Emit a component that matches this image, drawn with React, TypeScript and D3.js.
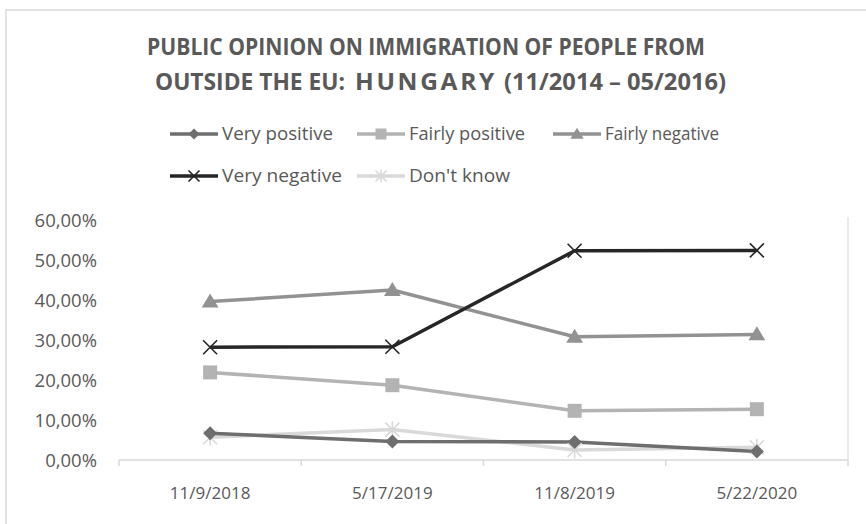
import { useEffect, useRef } from 'react';
import * as d3 from 'd3';

const dates = ['11/9/2018', '5/17/2019', '11/8/2019', '5/22/2020'];
const veryPositive = [6.7, 4.6, 4.5, 2.1];
const fairlyPositive = [21.9, 18.7, 12.3, 12.7];
const fairlyNegative = [39.6, 42.5, 30.8, 31.4];
const veryNegative = [28.2, 28.3, 52.3, 52.4];
const dontKnow = [5.7, 7.6, 2.5, 3.2];
const yTicks = [0, 10, 20, 30, 40, 50, 60];

type Marker = 'diamond' | 'square' | 'triangle' | 'x' | 'star';
type Series = { name: string; values: number[]; color: string; marker: Marker };

const series: Series[] = [
  { name: 'Very positive', values: veryPositive, color: '#6e6e6e', marker: 'diamond' },
  { name: 'Fairly positive', values: fairlyPositive, color: '#b3b3b3', marker: 'square' },
  { name: 'Fairly negative', values: fairlyNegative, color: '#929292', marker: 'triangle' },
  { name: 'Very negative', values: veryNegative, color: '#262626', marker: 'x' },
  { name: "Don't know", values: dontKnow, color: '#d9d9d9', marker: 'star' },
];

const FONT = "'Open Sans', sans-serif";
const TEXT = '#595959';

function drawMarker(g: d3.Selection<SVGGElement, unknown, null, undefined>, m: Marker, color: string, s: number) {
  if (m === 'diamond') {
    g.append('path').attr('d', `M0,${-s}L${s},0L0,${s}L${-s},0Z`).attr('fill', color);
  } else if (m === 'square') {
    g.append('rect').attr('x', -s).attr('y', -s).attr('width', 2 * s).attr('height', 2 * s).attr('fill', color);
  } else if (m === 'triangle') {
    g.append('path').attr('d', `M0,${-s * 1.15}L${s * 1.2},${s * 0.85}L${-s * 1.2},${s * 0.85}Z`).attr('fill', color);
  } else if (m === 'x') {
    g.append('path').attr('d', `M${-s},${-s}L${s},${s}M${-s},${s}L${s},${-s}`)
      .attr('stroke', color).attr('stroke-width', 1.6).attr('fill', 'none');
  } else {
    g.append('path')
      .attr('d', `M${-s},${-s}L${s},${s}M${-s},${s}L${s},${-s}M0,${-s * 1.2}L0,${s * 1.2}`)
      .attr('stroke', color).attr('stroke-width', 1.6).attr('fill', 'none');
  }
}

export default function App() {
  const svgRef = useRef<SVGSVGElement>(null);

  useEffect(() => {
    if (!svgRef.current) return;
    const svg = d3.select(svgRef.current);
    svg.selectAll('*').remove();

    // frame
    svg.append('path').attr('d', 'M6,524L6,10L866,10')
      .attr('fill', 'none').attr('stroke', '#e3e3e3').attr('stroke-width', 2);

    // title
    const tAttrs = (t: d3.Selection<SVGTextElement, unknown, null, undefined>) =>
      t.attr('font-family', FONT).attr('font-weight', 700).attr('fill', TEXT).attr('font-size', 23);
    tAttrs(svg.append('text').attr('x', 147).attr('y', 55))
      .attr('textLength', 558).attr('lengthAdjust', 'spacingAndGlyphs')
      .text('PUBLIC OPINION ON IMMIGRATION OF PEOPLE FROM');
    tAttrs(svg.append('text').attr('x', 155).attr('y', 90))
      .attr('textLength', 190).attr('lengthAdjust', 'spacingAndGlyphs').text('OUTSIDE THE EU:');
    tAttrs(svg.append('text').attr('x', 355).attr('y', 90))
      .attr('textLength', 142).attr('lengthAdjust', 'spacingAndGlyphs').attr('letter-spacing', 2.5).text('HUNGARY');
    tAttrs(svg.append('text').attr('x', 504).attr('y', 90))
      .attr('textLength', 222).attr('lengthAdjust', 'spacingAndGlyphs').text('(11/2014 – 05/2016)');

    // legend
    const legendPos = [
      [170, 134], [357, 134], [553, 134], [170, 176], [357, 176],
    ];
    const legendW = [111, 116, 114, 120, 101];
    series.forEach((s, i) => {
      const [lx, ly] = legendPos[i];
      const g = svg.append('g');
      g.append('line').attr('x1', lx).attr('x2', lx + 48).attr('y1', ly).attr('y2', ly)
        .attr('stroke', s.color).attr('stroke-width', 3.5);
      const mg = g.append('g').attr('transform', `translate(${lx + 24},${ly})`);
      drawMarker(mg, s.marker, s.color, 5.5);
      g.append('text').attr('x', lx + 52).attr('y', ly).attr('dy', '0.35em')
        .attr('font-family', FONT).attr('font-size', 18).attr('fill', TEXT)
        .attr('textLength', legendW[i]).attr('lengthAdjust', 'spacingAndGlyphs').text(s.name);
    });

    // scales
    const x = d3.scaleBand<string>().domain(dates).range([119, 848]);
    const y = d3.scaleLinear().domain([0, 60]).range([460, 220]);

    // axis
    svg.append('line').attr('x1', 119).attr('x2', 848).attr('y1', y(0)).attr('y2', y(0))
      .attr('stroke', '#d9d9d9').attr('stroke-width', 1.5);
    const tickXs = dates.map(d => x(d) as number).concat([848]);
    tickXs.forEach(tx => {
      svg.append('line').attr('x1', tx).attr('x2', tx).attr('y1', y(0)).attr('y2', y(0) + 6)
        .attr('stroke', '#d9d9d9').attr('stroke-width', 1.5);
    });
    svg.append('line').attr('x1', 848).attr('x2', 848).attr('y1', 217).attr('y2', y(0) + 6)
      .attr('stroke', '#e3e3e3').attr('stroke-width', 1.5);

    dates.forEach(d => {
      svg.append('text').attr('x', (x(d) as number) + x.bandwidth() / 2).attr('y', 493).attr('dy', '0.35em')
        .attr('text-anchor', 'middle').attr('font-family', FONT).attr('font-size', 17)
        .attr('fill', TEXT).text(d);
    });
    yTicks.forEach(t => {
      svg.append('text').attr('x', 97).attr('y', y(t) + 1).attr('dy', '0.35em')
        .attr('text-anchor', 'end').attr('font-family', FONT).attr('font-size', 18.5)
        .attr('fill', TEXT).text(t.toFixed(2).replace('.', ',') + '%');
    });

    // series
    const line = d3.line<number>()
      .x((_, i) => (x(dates[i]) as number) + x.bandwidth() / 2)
      .y(v => y(v));
    const order = [4, 0, 1, 2, 3];
    order.forEach(i => {
      const s = series[i];
      svg.append('path').attr('d', line(s.values)).attr('fill', 'none')
        .attr('stroke', s.color).attr('stroke-width', 3.5).attr('stroke-linejoin', 'round');
    });
    order.forEach(i => {
      const s = series[i];
      s.values.forEach((v, j) => {
        const mg = svg.append('g')
          .attr('transform', `translate(${(x(dates[j]) as number) + x.bandwidth() / 2},${y(v)})`);
        drawMarker(mg, s.marker, s.color, 7);
      });
    });
  }, []);

  return (
    <svg
      ref={svgRef}
      width={866}
      height={524}
      style={{ position: 'absolute', left: 0, top: 0, background: '#fff' }}
    />
  );
}
